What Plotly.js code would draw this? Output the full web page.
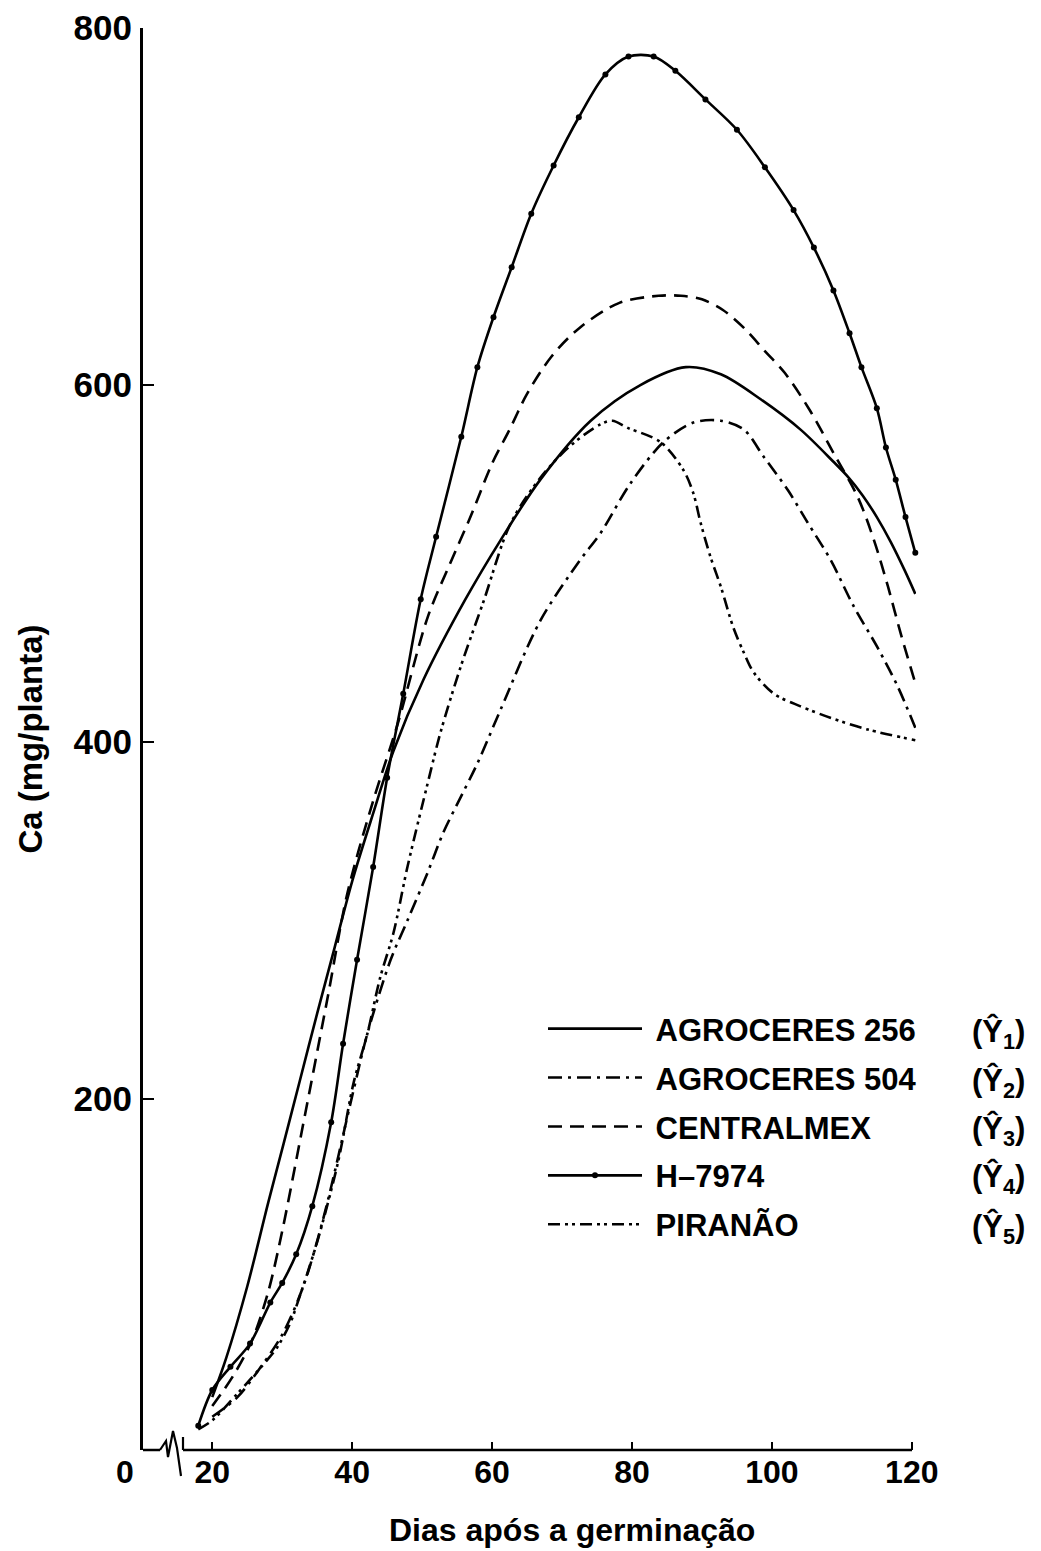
<!DOCTYPE html>
<html>
<head>
<meta charset="utf-8">
<script src="https://cdn.plot.ly/plotly-3.0.1.min.js"></script>
<style>html,body{margin:0;padding:0;background:#fff;}#chart{width:1041px;height:1551px;}</style>
</head>
<body>
<div id="chart"></div>
<script>
// ---- Data ----
const seriesNames = ["AGROCERES 256", "AGROCERES 504", "CENTRALMEX", "H\u20137974", "PIRAN\u00C3O"];
const seriesTags = ["(\u0176<sub>1</sub>)", "(\u0176<sub>2</sub>)", "(\u0176<sub>3</sub>)", "(\u0176<sub>4</sub>)", "(\u0176<sub>5</sub>)"];
const xTitle = "Dias após a germinação";
const yTitle = "Ca (mg/planta)";

const daysAg256 = [20, 22, 25, 28, 30.2, 32.5, 35, 37.5, 40, 43, 45.9, 50.2, 56.2, 61.2, 66.9, 74.1, 81.2, 87.7, 92.7, 98.4, 104.1, 108.8, 111, 113, 115, 117, 119, 120.5];
const caAg256   = [33, 55, 95, 142, 175, 210, 248, 285, 322, 360, 395, 435, 480, 513, 547, 580, 600, 610, 606, 592, 575, 557, 548, 538, 526, 512, 496, 483];

const daysAg504 = [20, 23.6, 26.4, 30, 33, 36, 40.2, 42.2, 45.5, 47.9, 50.8, 53, 55.5, 57.9, 61.2, 66.9, 72.6, 75.5, 79.8, 84.5, 88.8, 92.7, 96, 98.8, 102.3, 105.1, 108.4, 111.7, 115.1, 118, 120.5];
const caAg504   = [22, 33, 47, 68, 95, 135, 205, 237, 278, 300, 327, 349, 369, 388, 418, 468, 502, 517, 545, 568, 579, 580, 575, 560, 541, 523, 502, 476, 453, 431, 408];

const daysCmx = [20, 23, 25.7, 28, 30, 33, 36.5, 39.3, 43, 46.5, 50.8, 54, 57, 60, 62.5, 65, 68.5, 72.5, 78.2, 83.8, 87, 90, 93, 96, 99, 101.8, 105.4, 108.8, 112.3, 114.6, 116.6, 118.4, 120.5];
const caCmx   = [28, 45, 65, 92, 126, 186, 257, 315, 367, 410, 470, 500, 527, 556, 575, 595, 616, 632, 646, 650, 650, 648, 642, 632, 619, 607, 586, 562, 537, 513, 487, 461, 433];

const daysH7974 = [18, 20, 22.6, 25.4, 28.3, 30, 32, 34.3, 37, 38.7, 40.7, 43, 45, 47.3, 49.8, 52, 55.6, 57.9, 60.2, 62.8, 65.6, 68.8, 72.4, 76.2, 79.5, 83.1, 86.2, 90.5, 95, 99, 103.1, 106, 108.8, 111.1, 112.8, 115, 116.3, 117.7, 119.1, 120.5];
const caH7974   = [17, 37, 50, 63, 86, 97, 113, 140, 187, 231, 278, 330, 380, 427, 480, 515, 571, 610, 638, 666, 696, 723, 750, 774, 784, 784, 776, 760, 743, 722, 698, 677, 653, 629, 610, 587, 565, 547, 526, 506];

const daysPir = [18, 20, 23.6, 27.9, 29.3, 31.2, 32.2, 35, 38, 40.2, 42.2, 44, 45.9, 47.9, 50.8, 52.6, 55.5, 58.8, 62.6, 66.9, 71.2, 75.5, 77.2, 79.4, 84.1, 87.4, 88.8, 89.8, 91.2, 92.7, 94.5, 96, 97.4, 100.3, 104.1, 108.8, 113.7, 120.5];
const caPir   = [15, 20, 35, 54, 61, 75, 86, 120, 165, 209, 237, 268, 293, 330, 377, 405, 442, 479, 522, 548, 566, 578, 580, 576, 568, 552, 539, 523, 504, 487, 464, 450, 439, 427, 420, 413, 407, 401];

const xTickVals = [20, 40, 60, 80, 100, 120];
const yTickVals = [200, 400, 600, 800];

// ---- Styling ----
const FONT = "Liberation Sans, Arial, Helvetica, sans-serif";
const INK = "#000000";
const xRange = [10.1, 120.6];
const yRange = [3.4, 800];

function curve(x, y, name, dash, group, withDots) {
  const t = {
    type: "scatter",
    mode: withDots ? "lines+markers" : "lines",
    x: x, y: y, name: "\u00A0" + name,
    legendgroup: group,
    line: {color: INK, width: 2.6, dash: dash, shape: "spline", smoothing: 0.9},
    hoverinfo: "skip",
    cliponaxis: false
  };
  if (withDots) t.marker = {color: INK, size: 6, symbol: "circle"};
  return t;
}

const traces = [
  curve(daysAg256, caAg256, seriesNames[0], "solid", "g1", false),
  curve(daysAg504, caAg504, seriesNames[1], "14px,6px,3px,6px", "g2", false),
  curve(daysCmx, caCmx, seriesNames[2], "14px,8px", "g3", false),
  curve(daysH7974, caH7974, seriesNames[3], "solid", "g4", true),
  curve(daysPir, caPir, seriesNames[4], "12px,5px,3px,4px,3px,5px", "g5", false)
];

// layout geometry helpers (pixels -> paper)
const W = 1041, H = 1551;
const mL = 143, mR = 125, mT = 28, mB = 101;
const pw = W - mL - mR, ph = H - mT - mB;
const px = v => (v - mL) / pw;
const py = v => (H - mB - v) / ph;

const legendRowY = [1030, 1079, 1127, 1175, 1225];

const annotations = seriesTags.map((t, i) => ({
  xref: "paper", yref: "paper", x: px(998), y: py(legendRowY[i] + 3),
  xanchor: "center", yanchor: "middle", showarrow: false,
  text: t, font: {family: FONT, size: 31, color: INK, weight: "bold"}
}));
annotations.push({
  xref: "paper", yref: "paper", x: px(125), y: py(1472),
  xanchor: "center", yanchor: "middle", showarrow: false,
  text: "0", font: {family: FONT, size: 32, color: INK, weight: "bold"}
});
annotations.push({
  xref: "paper", yref: "paper", x: px(572), y: py(1530),
  xanchor: "center", yanchor: "middle", showarrow: false,
  text: xTitle, font: {family: FONT, size: 32, color: INK, weight: "bold"}
});

const shapes = [
  {type: "line", xref: "paper", yref: "paper", x0: 0, x1: px(160), y0: 0, y1: 0, line: {color: INK, width: 2.5}},
  {type: "path", xref: "paper", yref: "paper",
   path: "M " + px(160) + " " + py(1450) + " L " + px(166) + " " + py(1441) + " L " + px(168) + " " + py(1457) +
         " L " + px(173) + " " + py(1431) + " L " + px(177) + " " + py(1448) + " L " + px(181) + " " + py(1476),
   line: {color: INK, width: 2.2}},
  {type: "line", xref: "paper", yref: "paper", x0: px(183), x1: px(183), y0: py(1437), y1: 0, line: {color: INK, width: 2.2}},
  {type: "line", xref: "paper", yref: "paper", x0: px(183), x1: px(912), y0: 0, y1: 0, line: {color: INK, width: 2.5}}
];

const layout = {
  width: W, height: H,
  margin: {l: mL, r: mR, t: mT, b: mB, pad: 0},
  paper_bgcolor: "#ffffff", plot_bgcolor: "#ffffff",
  font: {family: FONT, color: INK},
  showlegend: true,
  legend: {
    x: px(543), y: py(1002), xanchor: "left", yanchor: "top",
    bgcolor: "rgba(0,0,0,0)", borderwidth: 0,
    font: {family: FONT, size: 31, color: INK, weight: "bold"},
    itemwidth: 94, tracegroupgap: 5.6, traceorder: "grouped",
    itemclick: false, itemdoubleclick: false
  },
  xaxis: {
    range: xRange, tickvals: xTickVals, ticktext: xTickVals.map(String),
    showline: false, showgrid: false, zeroline: false,
    ticks: "inside", ticklen: 8, tickwidth: 2, tickcolor: INK,
    tickfont: {family: FONT, size: 32, color: INK, weight: "bold"}
  },
  yaxis: {
    range: yRange, tickvals: yTickVals, ticktext: yTickVals.map(String),
    showline: true, linecolor: INK, linewidth: 3,
    showgrid: false, zeroline: false,
    ticks: "inside", ticklen: 11, tickwidth: 2.5, tickcolor: INK,
    ticklabelstandoff: 1,
    tickfont: {family: FONT, size: 35, color: INK, weight: "bold"},
    title: {text: yTitle, font: {family: FONT, size: 33, color: INK, weight: "bold"}, standoff: 22}
  },
  annotations: annotations,
  shapes: shapes
};

Plotly.newPlot("chart", traces, layout, {staticPlot: true, displayModeBar: false});
</script>
</body>
</html>
